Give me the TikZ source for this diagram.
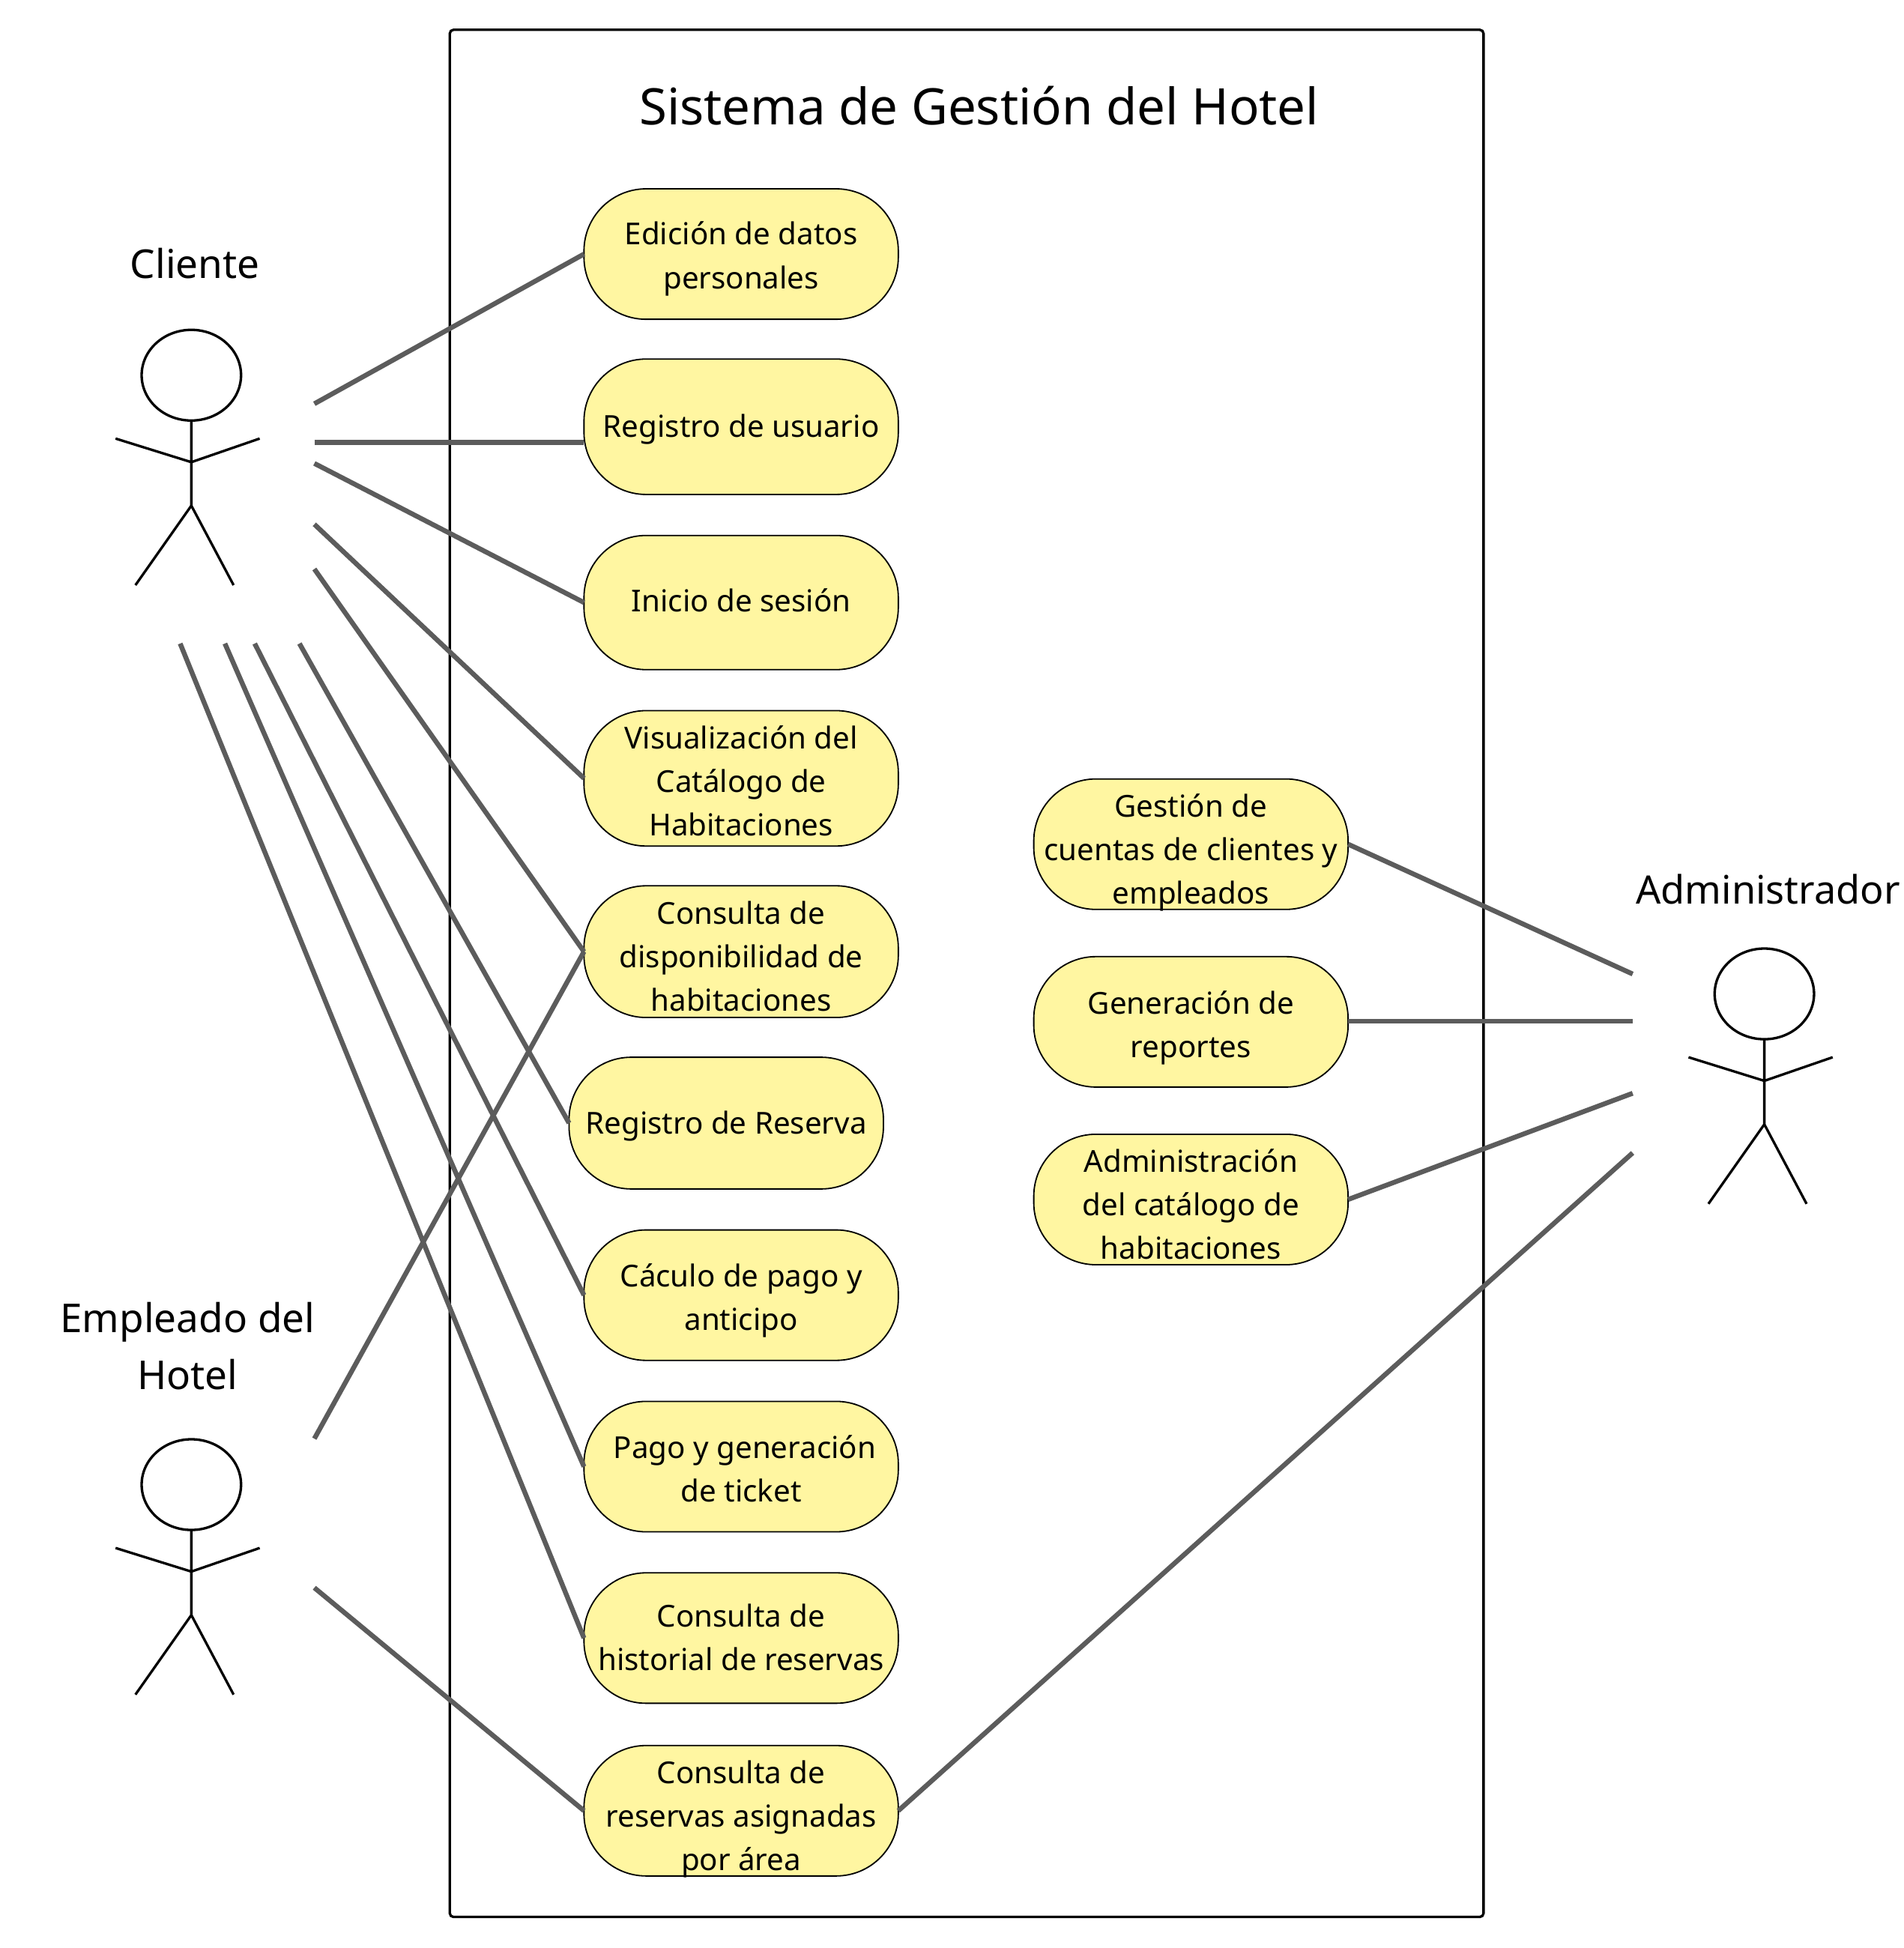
\documentclass[tikz,border=0pt]{standalone}
\usepackage{fontspec}
\setmainfont{Noto Sans}
\definecolor{uc}{HTML}{FFF6A1}
\definecolor{conn}{HTML}{5C5C5C}
\tikzset{
  x=1pt,y=-1pt,
  ucase/.style={draw=black,line width=1.1pt,fill=uc,rounded corners=50pt,minimum width=253pt,anchor=north west,inner sep=0pt,outer sep=0pt,
     font=\fontsize{24.3}{35}\selectfont,text=black},
  conn/.style={draw=conn,line width=3.9pt},
  frame/.style={draw=black,line width=2pt,rounded corners=3pt},
  actlabel/.style={font=\fontsize{32}{46}\selectfont,align=center,text=black},
  actor/.pic={
    \draw[black,line width=2pt] (0,0) ellipse [x radius=40,y radius=36.5];
    \draw[black,line width=2pt] (0,37) -- (0,105) (-61,51) -- (0,70) -- (55,51) (-45,169) -- (0,105) -- (34,169);
  }
}
\newcommand{\ucl}[2]{\raisebox{-#1pt}[\height][\depth]{\begin{tabular}{@{}c@{}}#2\end{tabular}}}
\begin{document}
\begin{tikzpicture}
\useasboundingbox (0,0) rectangle (1532,1568);
\draw[frame] (362,24) rectangle (1194,1543);
\node[font=\fontsize{40.5}{48}\selectfont] (title) at (788,85) {Sistema de Gestión del Hotel};

\node[ucase,minimum height=105pt] (edicion) at (470,152) {\ucl{3.2}{Edición de datos\\personales}};
\node[ucase,minimum height=109pt] (registro) at (470,289) {\ucl{1.5}{Registro de usuario}};
\node[ucase,minimum height=108pt] (inicio) at (470,431) {\ucl{0.7}{Inicio de sesión}};
\node[ucase,minimum height=109pt] (visual) at (470,572) {\ucl{4.2}{Visualización del\\Catálogo de\\Habitaciones}};
\node[ucase,minimum height=106pt] (dispo) at (470,713) {\ucl{5.7}{Consulta de\\disponibilidad de\\habitaciones}};
\node[ucase,minimum height=106pt] (reserva) at (458,851) {\ucl{1.7}{Registro de Reserva}};
\node[ucase,minimum height=105pt] (calculo) at (470,990) {\ucl{3.7}{Cáculo de pago y\\anticipo}};
\node[ucase,minimum height=105pt] (pago) at (470,1128) {\ucl{3.7}{\hspace*{6pt}Pago y generación\\de ticket}};
\node[ucase,minimum height=105pt] (historial) at (470,1266) {\ucl{1.7}{Consulta de\\historial de reservas}};
\node[ucase,minimum height=105pt] (asignadas) at (470,1405) {\ucl{6.2}{Consulta de\\reservas asignadas\\por área}};
\node[ucase,minimum height=105pt] (gestion) at (832,627) {\ucl{6.2}{Gestión de\\cuentas de clientes y\\empleados}};
\node[ucase,minimum height=105pt] (reportes) at (832,770) {\ucl{4.2}{Generación de\\reportes}};
\node[ucase,minimum height=105pt] (catalogo) at (832,913) {\ucl{6.2}{Administración\\del catálogo de\\habitaciones}};

\pic at (154,302) {actor};
\pic at (154,1195) {actor};
\pic at (1420,800) {actor};
\node[actlabel] (lcliente) at (157,212) {Cliente};
\node[actlabel] (lempleado) at (151,1083.5) {Empleado del\\Hotel};
\node[actlabel,font=\fontsize{31.5}{46}\selectfont] (ladmin) at (1423,716) {Administrador};

\coordinate (c1) at (253,325);
\coordinate (c2) at (253,356);
\coordinate (c3) at (253,373);
\coordinate (c4) at (253,422);
\coordinate (c5) at (253,458);
\coordinate (c6) at (241,518);
\coordinate (c7) at (205,518);
\coordinate (c8) at (181,518);
\coordinate (c9) at (145,518);
\coordinate (e1) at (253,1158);
\coordinate (e2) at (253,1278);
\coordinate (a1) at (1314,784);
\coordinate (a2) at (1314,822);
\coordinate (a3) at (1314,880);
\coordinate (a4) at (1314,928);

\draw[conn] (c1) -- (edicion.west);
\draw[conn] (c2) -- (registro.west |- c2);
\draw[conn] (c3) -- (inicio.west);
\draw[conn] (c4) -- (visual.west);
\draw[conn] (c5) -- (dispo.west);
\draw[conn] (c6) -- (reserva.west);
\draw[conn] (c7) -- (calculo.west);
\draw[conn] (c8) -- (pago.west);
\draw[conn] (c9) -- (historial.west);
\draw[conn] (e1) -- (dispo.west);
\draw[conn] (e2) -- (asignadas.west);
\draw[conn] (a1) -- (gestion.east);
\draw[conn] (a2) -- (reportes.east |- a2);
\draw[conn] (a3) -- (catalogo.east);
\draw[conn] (a4) -- (asignadas.east);
\end{tikzpicture}
\end{document}
